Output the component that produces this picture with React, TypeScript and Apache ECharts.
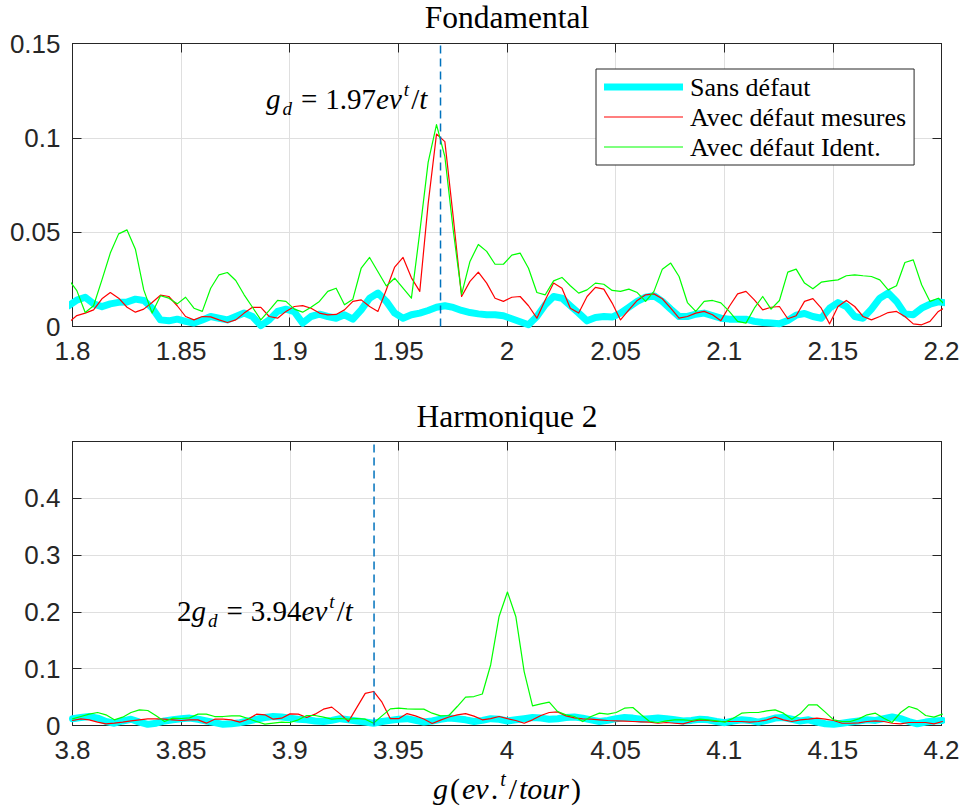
import React, { useEffect, useRef } from "react";
import * as echarts from "echarts";

// ---- sampling grids (g in ev.t/tour) ----
const topStart = 1.79815; // first sample (just left of 1.8, clipped)
const botStart = 3.8;
const gStep = 0.00385;
const gdTop = 1.9694;
const gdBot = 3.9388;

// ---- Fondamental ----
const topSans = [
  0.011, 0.014, 0.0155, 0.012, 0.0105, 0.012, 0.0128, 0.013, 0.0145, 0.0138,
  0.0098, 0.0035, 0.003, 0.0039, 0.0027, 0.0018, 0.0035, 0.0053, 0.0044, 0.0035,
  0.0053, 0.0071, 0.0053, 0.0005, 0.0035, 0.008, 0.0092, 0.0078, 0.0018, 0.0053,
  0.0065, 0.0053, 0.0044, 0.0062, 0.0039, 0.0088, 0.015, 0.0177, 0.0133, 0.0071,
  0.0044, 0.0062, 0.0071, 0.0085, 0.0102, 0.011, 0.0101, 0.0085, 0.0074, 0.0067,
  0.0062, 0.0062, 0.0057, 0.0041, 0.0025, 0.0009, 0.0053, 0.0115, 0.0159, 0.015,
  0.011, 0.0071, 0.003, 0.0048, 0.0053, 0.005, 0.0071, 0.0102, 0.0133, 0.0155,
  0.0163, 0.0133, 0.0092, 0.0053, 0.0053, 0.0065, 0.0071, 0.0058, 0.0044, 0.0039,
  0.0039, 0.0039, 0.0027, 0.0021, 0.0018, 0.0014, 0.0032, 0.006, 0.0069, 0.0053,
  0.0044, 0.0097, 0.0127, 0.0106, 0.0053, 0.0044, 0.0092, 0.015, 0.0177, 0.0133,
  0.0067, 0.0062, 0.0097, 0.0118, 0.0131, 0.0125,
];
const topMesures = [
  0.002, 0.0058, 0.0071, 0.0088, 0.0147, 0.018, 0.015, 0.0102, 0.0076, 0.0092,
  0.0127, 0.0166, 0.0159, 0.011, 0.0053, 0.0035, 0.0053, 0.0051, 0.0035, 0.0021,
  0.0035, 0.0071, 0.0102, 0.0101, 0.0053, 0.0044, 0.008, 0.0106, 0.0111, 0.0097,
  0.0071, 0.0062, 0.0064, 0.0088, 0.0133, 0.0141, 0.0106, 0.008, 0.0195, 0.0315,
  0.0366, 0.0258, 0.0186, 0.065, 0.102, 0.098, 0.058, 0.0159, 0.0239, 0.0288,
  0.023, 0.015, 0.0133, 0.0155, 0.0159, 0.011, 0.0044, 0.0141, 0.023, 0.0203,
  0.0097, 0.0071, 0.0159, 0.0207, 0.0198, 0.0124, 0.0035, 0.0088, 0.0138, 0.0168,
  0.0173, 0.0147, 0.0097, 0.0044, 0.0053, 0.0071, 0.008, 0.0062, 0.0031, 0.0106,
  0.0173, 0.0186, 0.0141, 0.0088, 0.0102, 0.0106, 0.0041, 0.0057, 0.0133, 0.0148,
  0.0097, 0.0014, 0.0106, 0.0138, 0.0106, 0.0053, 0.0035, 0.0053, 0.0074, 0.008,
  0.0053, 0.0014, 0.0009, 0.0027, 0.008, 0.0106,
];
const topIdent = [
  0.025, 0.019, 0.0074, 0.011, 0.0247, 0.0389, 0.0491, 0.0512, 0.041, 0.0194,
  0.0071, 0.0163, 0.015, 0.012, 0.0155, 0.0097, 0.008, 0.0203, 0.0274, 0.0286,
  0.0244, 0.0168, 0.0102, 0.0035, 0.0085, 0.0138, 0.0133, 0.0092, 0.0076, 0.0102,
  0.0133, 0.0186, 0.0203, 0.0115, 0.0145, 0.031, 0.0366, 0.029, 0.0215, 0.0256,
  0.0203, 0.015, 0.05, 0.087, 0.107, 0.09, 0.051, 0.017, 0.0345, 0.0435,
  0.0398, 0.033, 0.033, 0.0378, 0.0389, 0.0309, 0.018, 0.0168, 0.0242, 0.026,
  0.0216, 0.0177, 0.0194, 0.023, 0.0224, 0.0191, 0.0186, 0.0198, 0.018, 0.0133,
  0.0186, 0.0304, 0.0336, 0.0265, 0.0127, 0.008, 0.0133, 0.0138, 0.0125, 0.008,
  0.0027, 0.0018, 0.0097, 0.0159, 0.0092, 0.0138, 0.0288, 0.0304, 0.023, 0.02,
  0.0235, 0.0242, 0.0247, 0.0269, 0.0274, 0.0269, 0.0265, 0.0247, 0.0194, 0.0216,
  0.0339, 0.0353, 0.0221, 0.0133, 0.015, 0.0106,
];

// ---- Harmonique 2 ----
const botSans = [
  0.012, 0.014, 0.016, 0.013, 0.007, 0.004, 0.008, 0.011, 0.006, 0.002,
  0.004, 0.008, 0.01, 0.012, 0.013, 0.011, 0.008, 0.005, 0.002, 0.003,
  0.005, 0.008, 0.011, 0.014, 0.016, 0.015, 0.013, 0.011, 0.01, 0.008,
  0.007, 0.009, 0.012, 0.01, 0.008, 0.006, 0.004, 0.007, 0.009, 0.011,
  0.012, 0.009, 0.006, 0.008, 0.011, 0.013, 0.012, 0.01, 0.007, 0.009,
  0.012, 0.011, 0.008, 0.01, 0.012, 0.014, 0.013, 0.011, 0.012, 0.014,
  0.015, 0.013, 0.01, 0.007, 0.009, 0.012, 0.014, 0.013, 0.011, 0.012,
  0.013, 0.012, 0.01, 0.008, 0.009, 0.011, 0.01, 0.007, 0.005, 0.008,
  0.01, 0.009, 0.006, 0.009, 0.013, 0.014, 0.011, 0.008, 0.01, 0.006,
  0.003, 0.002, 0.004, 0.006, 0.008, 0.01, 0.009, 0.012, 0.015, 0.012,
  0.007, 0.003, 0.006, 0.008, 0.009,
];
const botMesures = [
  0.0088, 0.0117, 0.01, 0.0059, 0.0029, 0.0041, 0.0059, 0.0082, 0.01, 0.0117,
  0.0117, 0.0111, 0.01, 0.0088, 0.01, 0.01, 0.0041, 0.0111, 0.0111, 0.01,
  0.0059, 0.0111, 0.02, 0.0188, 0.0111, 0.0129, 0.0205, 0.02, 0.0141, 0.02,
  0.0288, 0.0323, 0.0205, 0.007, 0.032, 0.0565, 0.0599, 0.041, 0.012, 0.012,
  0.021, 0.017, 0.0115, 0.0035, 0.0095, 0.015, 0.0188, 0.021, 0.0165, 0.01,
  0.012, 0.0158, 0.012, 0.0088, 0.004, 0.01, 0.0176, 0.0229, 0.024, 0.017,
  0.0135, 0.0117, 0.0111, 0.01, 0.0088, 0.0082, 0.0076, 0.007, 0.0065, 0.0059,
  0.004, 0.0053, 0.004, 0.003, 0.007, 0.01, 0.0088, 0.007, 0.007, 0.007,
  0.007, 0.0059, 0.007, 0.01, 0.0147, 0.01, 0.007, 0.01, 0.0111, 0.013,
  0.0111, 0.0088, 0.004, 0.004, 0.0047, 0.007, 0.0082, 0.007, 0.004, 0.003,
  0.0053, 0.0053, 0.0053, 0.003, 0.007,
];
const botIdent = [
  0.0117, 0.0158, 0.02, 0.0229, 0.0188, 0.01, 0.0147, 0.0229, 0.0276, 0.0264,
  0.017, 0.007, 0.0129, 0.0123, 0.0135, 0.02, 0.02, 0.0158, 0.0158, 0.017,
  0.017, 0.0123, 0.007, 0.0023, 0.0041, 0.0059, 0.0053, 0.01, 0.0176, 0.0176,
  0.0147, 0.0111, 0.0123, 0.0111, 0.0123, 0.0111, 0.0041, 0.017, 0.0293, 0.0305,
  0.0293, 0.0288, 0.0288, 0.0217, 0.017, 0.0176, 0.0334, 0.05, 0.051, 0.0555,
  0.107, 0.192, 0.235, 0.192, 0.095, 0.0346, 0.038, 0.041, 0.0246, 0.0188,
  0.0158, 0.007, 0.0158, 0.0217, 0.02, 0.0229, 0.0305, 0.0317, 0.0188, 0.007,
  0.0053, 0.0082, 0.01, 0.01, 0.0088, 0.0111, 0.01, 0.0082, 0.0059, 0.0129,
  0.0217, 0.0229, 0.0229, 0.0258, 0.0276, 0.0217, 0.0111, 0.0205, 0.0364, 0.0364,
  0.0235, 0.01, 0.007, 0.007, 0.0117, 0.0188, 0.0217, 0.0129, 0.0053, 0.0229,
  0.0334, 0.0288, 0.0176, 0.0147, 0.02,
];

const legendNames = ["Sans défaut", "Avec défaut mesures", "Avec défaut Ident."];
const seriesColors = ["#00FFFF", "#FF0000", "#00FF00"];
const seriesWidths = [7, 1.2, 1.2];
const topXTicks = { min: 1.8, max: 2.2, interval: 0.05 };
const botXTicks = { min: 3.8, max: 4.2, interval: 0.05 };
const topYTicks = { min: 0, max: 0.15, interval: 0.05 };
const botYTicks = { min: 0, max: 0.5, interval: 0.1, hideMax: true };

const SANS = "'Liberation Sans', Arial, Helvetica, sans-serif";
const SERIF = "'Liberation Serif', 'Times New Roman', serif";
const AXIS = "#262626";
const GRIDC = "#DFDFDF";

const toPairs = (start: number, vals: number[]) =>
  vals.map((v, i) => [start + i * gStep, v]);

const fmt = (v: number) => String(parseFloat(v.toFixed(2)));

function xAxisPair(gridIndex: number, t: { min: number; max: number; interval: number }, withName: boolean) {
  const base = {
    type: "value",
    gridIndex,
    min: t.min,
    max: t.max,
    interval: t.interval,
    axisLine: { show: true, onZero: false, lineStyle: { color: AXIS, width: 1 } },
    axisTick: { show: true, inside: true, length: 9, lineStyle: { color: AXIS, width: 1 } },
  };
  const name = withName
    ? {
        name: "{i|g}{n|(}{i|ev}{n|.}{p|t}{n|/}{i|tour}{n|)}",
        nameLocation: "middle",
        nameGap: 43,
        nameTextStyle: {
          rich: {
            i: { fontFamily: SERIF, fontStyle: "italic", fontSize: 30, color: "#000", lineHeight: 40, padding: [0, 1, 0, 1] },
            n: { fontFamily: SERIF, fontSize: 30, color: "#000", lineHeight: 40, padding: [0, 1, 0, 1] },
            p: { fontFamily: SERIF, fontStyle: "italic", fontSize: 20, color: "#000", verticalAlign: "top", lineHeight: 20, padding: [0, 2, 0, 1] },
          },
        },
      }
    : {};
  return [
    {
      ...base,
      ...name,
      position: "bottom",
      axisLabel: { show: true, fontFamily: SANS, fontSize: 26, color: AXIS, margin: 11, formatter: fmt },
      splitLine: { show: true, lineStyle: { color: GRIDC, width: 1 } },
    },
    {
      ...base,
      position: "top",
      axisLabel: { show: false },
      splitLine: { show: false },
    },
  ];
}

function yAxisPair(gridIndex: number, t: { min: number; max: number; interval: number; hideMax?: boolean }) {
  const base = {
    type: "value",
    gridIndex,
    min: t.min,
    max: t.max,
    interval: t.interval,
    axisLine: { show: true, onZero: false, lineStyle: { color: AXIS, width: 1 } },
    axisTick: { show: true, inside: true, length: 9, lineStyle: { color: AXIS, width: 1 } },
  };
  return [
    {
      ...base,
      position: "left",
      axisLabel: {
        show: true,
        fontFamily: SANS,
        fontSize: 26,
        color: AXIS,
        margin: 12,
        formatter: (v: number) => (t.hideMax && Math.abs(v - t.max) < 1e-9 ? "" : fmt(v)),
      },
      splitLine: { show: true, lineStyle: { color: GRIDC, width: 1 } },
    },
    {
      ...base,
      position: "right",
      axisLabel: { show: false },
      splitLine: { show: false },
    },
  ];
}

function dataSeries(xIdx: number, yIdx: number, start: number, arrays: number[][]) {
  return arrays.map((vals, i) => ({
    type: "line",
    name: legendNames[i],
    xAxisIndex: xIdx,
    yAxisIndex: yIdx,
    data: toPairs(start, vals),
    showSymbol: false,
    symbol: "none",
    color: seriesColors[i],
    lineStyle: { color: seriesColors[i], width: seriesWidths[i], join: "round", cap: "round" },
    z: 2 + i,
  }));
}

function dashSeries(xIdx: number, yIdx: number, g: number, yMax: number) {
  return {
    type: "line",
    name: "gd",
    xAxisIndex: xIdx,
    yAxisIndex: yIdx,
    data: [
      [g, 0],
      [g, yMax],
    ],
    symbol: "none",
    color: "#0072BD",
    lineStyle: { color: "#0072BD", width: 1.5, type: [8, 5] },
    z: 6,
  };
}

const mathRich = {
  i: { fontFamily: SERIF, fontStyle: "italic", fontSize: 29, fill: "#000", lineHeight: 38, padding: [0, 1, 0, 0] },
  n: { fontFamily: SERIF, fontSize: 29, fill: "#000", lineHeight: 38 },
  e: { fontFamily: SERIF, fontSize: 29, fill: "#000", lineHeight: 38, padding: [0, 8, 0, 8] },
  s: { fontFamily: SERIF, fontStyle: "italic", fontSize: 19, fill: "#000", verticalAlign: "bottom", lineHeight: 18, padding: [0, 1, 0, 1] },
  p: { fontFamily: SERIF, fontStyle: "italic", fontSize: 19, fill: "#000", verticalAlign: "top", lineHeight: 18, padding: [0, 2, 0, 1] },
};

// legend icons: plain line samples (keepAspect keeps thin lines thin)
const legendIcons = [
  "path://M0 0H79V7H0Z",
  "path://M0 0H79V1.2H0Z",
  "path://M0 0H79V1.2H0Z",
];

export default function App() {
  const ref = useRef<HTMLDivElement>(null);
  useEffect(() => {
    if (!ref.current) return;
    const chart = echarts.init(ref.current, undefined, { renderer: "svg" });
    const option: any = {
      animation: false,
      backgroundColor: "#ffffff",
      title: [
        {
          text: "Fondamental",
          left: 507,
          top: 1,
          textAlign: "center",
          padding: 0,
          textStyle: { fontFamily: SERIF, fontSize: 31.5, fontWeight: "normal", color: "#000" },
        },
        {
          text: "Harmonique 2",
          left: 507,
          top: 400,
          textAlign: "center",
          padding: 0,
          textStyle: { fontFamily: SERIF, fontSize: 31.5, fontWeight: "normal", color: "#000" },
        },
      ],
      grid: [
        { left: 72.5, top: 43.5, width: 869, height: 283 },
        { left: 72.5, top: 441.5, width: 869, height: 284 },
      ],
      xAxis: [...xAxisPair(0, topXTicks, false), ...xAxisPair(1, botXTicks, true)],
      yAxis: [...yAxisPair(0, topYTicks), ...yAxisPair(1, botYTicks)],
      legend: {
        data: legendNames.map((n, i) => ({ name: n, icon: legendIcons[i] })),
        orient: "vertical",
        left: 596,
        top: 69,
        itemWidth: 79,
        itemHeight: 7,
        itemGap: 4,
        symbolKeepAspect: true,
        padding: [5, 8, 5, 8],
        borderColor: AXIS,
        borderWidth: 1,
        borderRadius: 0,
        backgroundColor: "#ffffff",
        selectedMode: false,
        itemStyle: { borderWidth: 0 },
        textStyle: {
          fontFamily: SERIF,
          fontSize: 26,
          fontWeight: "normal",
          color: "#000",
          lineHeight: 26,
          padding: [0, 0, 0, 2],
          textBorderWidth: 0,
          textShadowBlur: 0,
        },
      },
      graphic: [
        {
          type: "text",
          id: "ann-top",
          left: 266,
          top: 80,
          z: 10,
          style: {
            text: "{i|g}{s|d}{e|=}{n|1.97}{i|ev}{p|t}{n|/}{i|t}",
            rich: mathRich,
          },
        },
        {
          type: "text",
          id: "ann-bot",
          left: 177,
          top: 592,
          z: 10,
          style: {
            text: "{n|2}{i|g}{s|d}{e|=}{n|3.94}{i|ev}{p|t}{n|/}{i|t}",
            rich: mathRich,
          },
        },
      ],
      series: [
        ...dataSeries(0, 0, topStart, [topSans, topMesures, topIdent]),
        dashSeries(0, 0, gdTop, topYTicks.max),
        ...dataSeries(2, 2, botStart, [botSans, botMesures, botIdent]),
        dashSeries(2, 2, gdBot, botYTicks.max),
      ],
    };
    chart.setOption(option);
    return () => chart.dispose();
  }, []);
  return (
    <div
      ref={ref}
      style={{ position: "absolute", left: 0, top: 0, width: 964, height: 808, background: "#fff" }}
    />
  );
}
